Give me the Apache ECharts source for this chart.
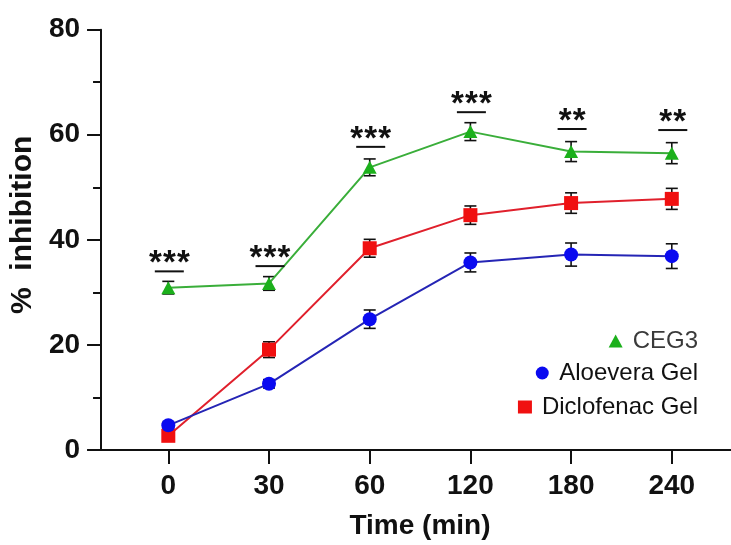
<!DOCTYPE html>
<html>
<head>
<meta charset="utf-8">
<script src="https://cdn.jsdelivr.net/npm/echarts@6/dist/echarts.min.js"></script>
<style>
html,body{margin:0;padding:0;background:#fff;}
#chart{width:731px;height:545px;}
</style>
</head>
<body>
<div id="chart"></div>
<script>
// ---- data ----
const timeLabels = ['0', '30', '60', '120', '180', '240'];
const ceg3 = [30.9, 31.7, 53.8, 60.6, 56.8, 56.5];
const ceg3Err = [1.2, 1.3, 1.6, 1.7, 1.9, 2.0];
const aloe = [4.7, 12.6, 24.9, 35.7, 37.2, 36.9];
const aloeErr = [0.6, 0.8, 1.75, 1.8, 2.2, 2.35];
const diclo = [2.7, 19.1, 38.4, 44.7, 47.0, 47.8];
const dicloErr = [0.6, 1.5, 1.7, 1.75, 1.95, 2.0];
const sigLevels = [34.0, 35.0, 57.7, 64.3, 61.1, 60.9];
const sigLabels = ['***', '***', '***', '***', '**', '**'];
const yTicks = [0, 20, 40, 60, 80];

const FONT = 'Liberation Sans, Arial, sans-serif';
const tickIdx = timeLabels.map((_, i) => i);

function pts(vals) { return vals.map((v, i) => [i, v]); }
function errs(vals, e) { return vals.map((v, i) => [i, v - e[i], v + e[i]]); }

function errRender(params, api) {
  const x = api.value(0);
  const lo = api.coord([x, api.value(1)]);
  const hi = api.coord([x, api.value(2)]);
  const w = 6;
  const st = { stroke: '#111', lineWidth: 1.6 };
  return {
    type: 'group',
    children: [
      { type: 'line', shape: { x1: lo[0], y1: lo[1], x2: hi[0], y2: hi[1] }, style: st },
      { type: 'line', shape: { x1: hi[0] - w, y1: hi[1], x2: hi[0] + w, y2: hi[1] }, style: st },
      { type: 'line', shape: { x1: lo[0] - w, y1: lo[1], x2: lo[0] + w, y2: lo[1] }, style: st }
    ]
  };
}

function sigRender(params, api) {
  const x = api.value(0);
  const p = api.coord([x, api.value(1)]);
  const label = sigLabels[params.dataIndex];
  const n = label.length;
  const half = 14.5;
  const spacing = 14;
  const children = [
    { type: 'line', shape: { x1: p[0] - half + 1, y1: p[1], x2: p[0] + half + 1, y2: p[1] }, style: { stroke: '#111', lineWidth: 2 } }
  ];
  for (let k = 0; k < n; k++) {
    const cx = p[0] + 1 + (k - (n - 1) / 2) * spacing;
    children.push({
      type: 'text',
      style: {
        x: cx, y: p[1] - 7,
        text: label[k],
        font: 'bold 33px ' + FONT,
        fill: '#111',
        align: 'center',
        verticalAlign: 'middle'
      }
    });
  }
  return { type: 'group', children: children };
}

const chart = echarts.init(document.getElementById('chart'), null, { renderer: 'canvas' });

function legendFor(name, icon, top, color) {
  return {
    data: [{ name: name, icon: icon }],
    right: 33,
    top: top,
    padding: 0,
    itemWidth: 14,
    itemHeight: 13,
    selectedMode: false,
    textStyle: { fontFamily: FONT, fontSize: 24, color: color, padding: [0, 0, 0, 5] }
  };
}

const option = {
  backgroundColor: '#ffffff',
  animation: false,
  grid: { left: 101, right: 0, top: 29.7, bottom: 92.3, containLabel: false },
  legend: [
    legendFor('CEG3', 'triangle', 329, '#3a3a3a'),
    legendFor('Aloevera Gel', 'circle', 361, '#111'),
    legendFor('Diclofenac Gel', 'rect', 395, '#111')
  ],
  xAxis: {
    type: 'value',
    min: -0.668,
    max: 5.588,
    name: 'Time (min)',
    nameLocation: 'middle',
    nameGap: 62,
    nameTextStyle: { fontFamily: FONT, fontSize: 28, fontWeight: 'bold', color: '#111', padding: [0, 0, 0, 8] },
    splitLine: { show: false },
    axisLine: { show: true, onZero: false, lineStyle: { color: '#111', width: 2 } },
    axisTick: { show: true, length: 14, lineStyle: { color: '#111', width: 2 }, customValues: tickIdx },
    axisLabel: {
      customValues: tickIdx,
      margin: 22,
      fontFamily: FONT, fontSize: 28, fontWeight: 'bold', color: '#111',
      formatter: v => timeLabels[Math.round(v)]
    }
  },
  yAxis: {
    type: 'value',
    min: yTicks[0],
    max: yTicks[yTicks.length - 1],
    interval: 20,
    name: '%  inhibition',
    nameLocation: 'middle',
    nameGap: 57,
    nameTextStyle: { fontFamily: FONT, fontSize: 30, fontWeight: 'bold', color: '#111', padding: [0, 0, 0, 30] },
    splitLine: { show: false },
    axisLine: { show: true, onZero: false, lineStyle: { color: '#111', width: 2 } },
    axisTick: { show: true, length: 14, lineStyle: { color: '#111', width: 2 } },
    minorTick: { show: true, splitNumber: 2, length: 8, lineStyle: { color: '#111', width: 2 } },
    axisLabel: { margin: 21, fontFamily: FONT, fontSize: 28, fontWeight: 'bold', color: '#111' }
  },
  series: [
    { type: 'custom', name: 'errDiclo', renderItem: errRender, data: errs(diclo, dicloErr), z: 1, silent: true },
    { type: 'custom', name: 'errAloe', renderItem: errRender, data: errs(aloe, aloeErr), z: 1, silent: true },
    { type: 'custom', name: 'errCeg', renderItem: errRender, data: errs(ceg3, ceg3Err), z: 1, silent: true },
    {
      name: 'Diclofenac Gel', type: 'line', data: pts(diclo), z: 2,
      symbol: 'rect', symbolSize: 14,
      lineStyle: { color: '#e0202c', width: 2 },
      itemStyle: { color: '#f01010' }
    },
    {
      name: 'Aloevera Gel', type: 'line', data: pts(aloe), z: 3,
      symbol: 'circle', symbolSize: 14,
      lineStyle: { color: '#2525b5', width: 2 },
      itemStyle: { color: '#0a0af0' }
    },
    {
      name: 'CEG3', type: 'line', data: pts(ceg3), z: 4,
      symbol: 'triangle', symbolSize: [14, 13],
      lineStyle: { color: '#3aae3a', width: 2 },
      itemStyle: { color: '#1cb01c' }
    },
    { type: 'custom', name: 'sig', renderItem: sigRender, data: pts(sigLevels), z: 5, silent: true }
  ]
};
chart.setOption(option);
</script>
</body>
</html>
